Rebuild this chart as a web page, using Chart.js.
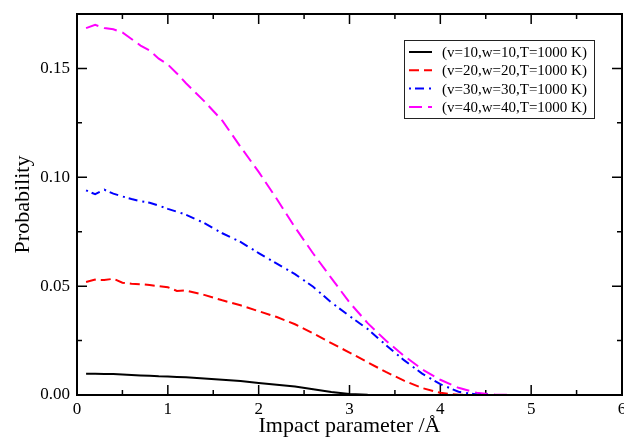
<!DOCTYPE html>
<html><head><meta charset="utf-8">
<script src="https://cdn.jsdelivr.net/npm/chart.js@4.4.0/dist/chart.umd.min.js"></script>
<style>html,body{margin:0;padding:0;background:#fff;}</style>
</head><body>
<canvas id="c" width="624" height="443" style="display:block;width:624px;height:443px"></canvas>
<script>
// ---- data ----
const impactParam = [0.1,0.2,0.3,0.4,0.5,0.6,0.7,0.8,0.9,1.0,1.1,1.2,1.4,1.6,1.8,2.0,2.2,2.4,2.6,2.8,3.0,3.2,3.4,3.6,3.8,4.0,4.2,4.4,4.6,4.8,5.0,5.5,6.0];
const probV10 = [0.0098,0.0098,0.0097,0.0096,0.0094,0.0092,0.0090,0.0088,0.0086,0.0085,0.0083,0.0081,0.0076,0.0070,0.0064,0.0055,0.0047,0.0039,0.0026,0.0014,0.0005,0.0001,0,0,0,0,0,0,0,0,0,0,0];
const probV20 = [0.0519,0.0530,0.0528,0.0534,0.0516,0.0511,0.0509,0.0505,0.0500,0.0495,0.0478,0.0480,0.0460,0.0435,0.0412,0.0385,0.0358,0.0325,0.0283,0.0238,0.0195,0.0150,0.0106,0.0066,0.0032,0.0010,0.0001,0,0,0,0,0,0];
const probV30 = [0.0940,0.0922,0.0943,0.0925,0.0912,0.0900,0.0890,0.0883,0.0870,0.0855,0.0842,0.0828,0.0790,0.0743,0.0703,0.0652,0.0603,0.0555,0.0497,0.0425,0.0363,0.0303,0.0230,0.0160,0.0098,0.0050,0.0015,0.0002,0,0,0,0,0];
const probV40 = [0.1685,0.1700,0.1686,0.1680,0.1665,0.1635,0.1605,0.1582,0.1545,0.1518,0.1477,0.1432,0.1350,0.1260,0.1140,0.1025,0.0900,0.0770,0.0650,0.0537,0.0425,0.0330,0.0250,0.0180,0.0118,0.0070,0.0033,0.0010,0.0002,0,0,0,0];
const seriesLabels = ['(v=10,w=10,T=1000 K)','(v=20,w=20,T=1000 K)','(v=30,w=30,T=1000 K)','(v=40,w=40,T=1000 K)'];
const xTickValues = [0,1,2,3,4,5,6];
const yTickValues = [0,0.05,0.10,0.15];
const xMinorValues = [0.5,1.5,2.5,3.5,4.5,5.5];
const yMinorValues = [0.025,0.075,0.125];

const FONT = "'Liberation Serif','Times New Roman',serif";
const seriesStyle = [
  {color:'#000000', dash:[]},
  {color:'#ff0000', dash:[10,5]},
  {color:'#0000ff', dash:[2,4,9,5]},
  {color:'#ff00ff', dash:[13,6]}
];
const seriesValues = [probV10, probV20, probV30, probV40];

const datasets = seriesValues.map((vals, i) => ({
  label: seriesLabels[i],
  data: impactParam.map((x, j) => ({x: x, y: vals[j]})),
  showLine: true,
  borderColor: seriesStyle[i].color,
  backgroundColor: seriesStyle[i].color,
  borderDash: seriesStyle[i].dash,
  borderWidth: 2,
  pointRadius: 0,
  tension: 0,
  fill: false,
  clip: false
}));

const framePlugin = {
  id: 'frame',
  beforeDatasetsDraw(chart) {
    const {ctx, chartArea: a, scales: {x, y}} = chart;
    ctx.save();
    ctx.strokeStyle = '#000';
    ctx.lineWidth = 1.5;
    ctx.beginPath();
    const tick = (x1, y1, x2, y2) => { ctx.moveTo(x1, y1); ctx.lineTo(x2, y2); };
    xTickValues.forEach(v => { const p = x.getPixelForValue(v); tick(p, a.bottom, p, a.bottom - 10); tick(p, a.top, p, a.top + 10); });
    xMinorValues.forEach(v => { const p = x.getPixelForValue(v); tick(p, a.bottom, p, a.bottom - 5); tick(p, a.top, p, a.top + 5); });
    yTickValues.forEach(v => { const p = y.getPixelForValue(v); tick(a.left, p, a.left + 10, p); tick(a.right, p, a.right - 10, p); });
    yMinorValues.forEach(v => { const p = y.getPixelForValue(v); tick(a.left, p, a.left + 5, p); tick(a.right, p, a.right - 5, p); });
    ctx.stroke();
    ctx.lineWidth = 2;
    ctx.strokeRect(a.left, a.top, a.right - a.left, a.bottom - a.top);
    ctx.restore();
  }
};

const legendPlugin = {
  id: 'boxLegend',
  afterDraw(chart) {
    const {ctx, chartArea: a} = chart;
    const bx = a.left + 327, by = a.top + 26, bw = 190, bh = 78;
    ctx.save();
    ctx.fillStyle = '#fff';
    ctx.fillRect(bx, by, bw, bh);
    ctx.strokeStyle = '#222';
    ctx.lineWidth = 1;
    ctx.strokeRect(bx + 0.5, by + 0.5, bw, bh);
    ctx.font = '15px ' + FONT;
    ctx.textBaseline = 'middle';
    ctx.textAlign = 'left';
    chart.data.datasets.forEach((ds, i) => {
      const cy = by + 12 + i * 18.3;
      ctx.strokeStyle = ds.borderColor;
      ctx.lineWidth = 2;
      ctx.setLineDash(ds.borderDash);
      ctx.beginPath();
      ctx.moveTo(bx + 5, cy);
      ctx.lineTo(bx + 28, cy);
      ctx.stroke();
      ctx.setLineDash([]);
      ctx.fillStyle = '#000';
      ctx.fillText(ds.label, bx + 38, cy + 1);
    });
    ctx.restore();
  }
};

new Chart(document.getElementById('c'), {
  type: 'scatter',
  data: { datasets },
  options: {
    responsive: false,
    animation: false,
    devicePixelRatio: 1,
    layout: { padding: { left: 0, right: 2, top: 14, bottom: 0 } },
    plugins: { legend: { display: false }, tooltip: { enabled: false } },
    scales: {
      x: {
        type: 'linear', min: 0, max: 6,
        afterBuildTicks: s => { s.ticks = xTickValues.map(v => ({value: v})); },
        afterFit: s => { s.height = 48; s.paddingLeft = 0; s.paddingRight = 0; },
        ticks: { color: '#000', font: { family: FONT, size: 17 }, padding: 4, maxRotation: 0, autoSkip: false,
                 callback: v => String(v) },
        grid: { display: false, drawTicks: false },
        border: { display: false },
        title: { display: true, text: 'Impact parameter /Å', color: '#000', font: { family: FONT, size: 22 }, padding: { top: 0, bottom: 4 } }
      },
      y: {
        type: 'linear', min: 0, max: 0.175,
        afterBuildTicks: s => { s.ticks = yTickValues.map(v => ({value: v})); },
        afterFit: s => { s.width = 77; s.paddingTop = 0; s.paddingBottom = 0; },
        ticks: { color: '#000', font: { family: FONT, size: 17 }, padding: 7, autoSkip: false,
                 callback: v => v.toFixed(2) },
        grid: { display: false, drawTicks: false },
        border: { display: false },
        title: { display: true, text: 'Probability', color: '#000', font: { family: FONT, size: 22 }, padding: { top: 10, bottom: 0 } }
      }
    }
  },
  plugins: [framePlugin, legendPlugin]
});
</script>
</body></html>
